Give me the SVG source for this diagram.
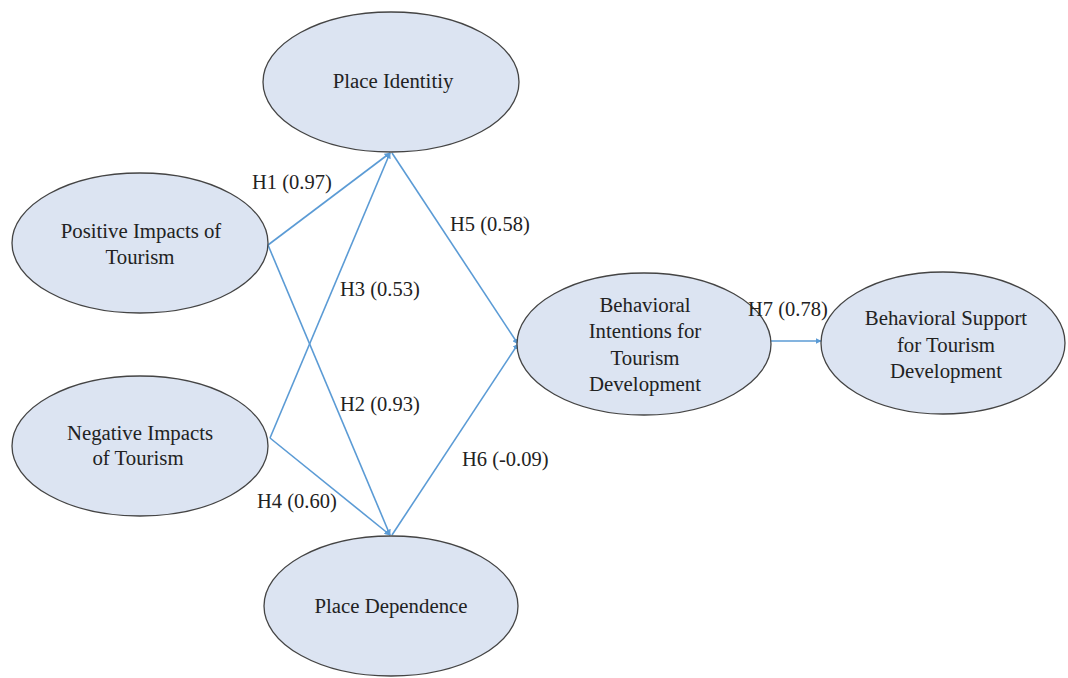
<svg xmlns="http://www.w3.org/2000/svg" width="1068" height="678" viewBox="0 0 1068 678">
<style>
.node ellipse{fill:#dce4f2;stroke:#444;stroke-width:1.3}
.node text,.lbl{font-family:"Liberation Serif","Times New Roman","DejaVu Serif",serif;font-size:20.8px;fill:#222;text-anchor:middle}
.lbl{text-anchor:start;font-size:20.5px}
.conn line{stroke:#5b9bd5;stroke-width:1.6;fill:none}
</style>
<defs>
<marker id="ah" viewBox="0 0 10 10" refX="9" refY="5" markerWidth="6" markerHeight="6" orient="auto" markerUnits="userSpaceOnUse">
<path d="M0,0 L10,5 L0,10 z" fill="#5b9bd5"/>
</marker>
</defs>
<rect width="1068" height="678" fill="#fff"/>
<g id="connectors" class="conn">
<line x1="268" y1="245" x2="390" y2="153" marker-end="url(#ah)"/>
<line x1="268" y1="245" x2="390" y2="535" marker-end="url(#ah)"/>
<line x1="270" y1="438" x2="390" y2="153" marker-end="url(#ah)"/>
<line x1="270" y1="438" x2="390" y2="535" marker-end="url(#ah)"/>
<line x1="392" y1="153" x2="518" y2="344" marker-end="url(#ah)"/>
<line x1="392" y1="535" x2="518" y2="344" marker-end="url(#ah)"/>
<line x1="771" y1="341" x2="821" y2="341" marker-end="url(#ah)"/>
</g>
<g id="place-identity" class="node">
<ellipse cx="391" cy="82" rx="128" ry="70"/>
<text x="393" y="88">Place Identitiy</text>
</g>
<g id="positive-impacts" class="node">
<ellipse cx="140" cy="243" rx="128" ry="70"/>
<text x="141" y="238">Positive Impacts of</text>
<text x="140" y="264">Tourism</text>
</g>
<g id="negative-impacts" class="node">
<ellipse cx="140" cy="446" rx="128" ry="70"/>
<text x="140" y="440">Negative Impacts</text>
<text x="138" y="465">of Tourism</text>
</g>
<g id="place-dependence" class="node">
<ellipse cx="391" cy="606" rx="127" ry="70"/>
<text x="391" y="613">Place Dependence</text>
</g>
<g id="behavioral-intentions" class="node">
<ellipse cx="644" cy="344" rx="127" ry="71"/>
<text x="645" y="312">Behavioral</text>
<text x="645" y="338">Intentions for</text>
<text x="645" y="365">Tourism</text>
<text x="645" y="391">Development</text>
</g>
<g id="behavioral-support" class="node">
<ellipse cx="943" cy="343" rx="122" ry="71"/>
<text x="946" y="325">Behavioral Support</text>
<text x="946" y="352">for Tourism</text>
<text x="946" y="378">Development</text>
</g>
<g id="labels">
<text class="lbl" x="252" y="189">H1 (0.97)</text>
<text class="lbl" x="450" y="231">H5 (0.58)</text>
<text class="lbl" x="340" y="296">H3 (0.53)</text>
<text class="lbl" x="340" y="411">H2 (0.93)</text>
<text class="lbl" x="462" y="466">H6 (-0.09)</text>
<text class="lbl" x="257" y="508">H4 (0.60)</text>
<text class="lbl" x="748" y="316">H7 (0.78)</text>
</g>
</svg>
